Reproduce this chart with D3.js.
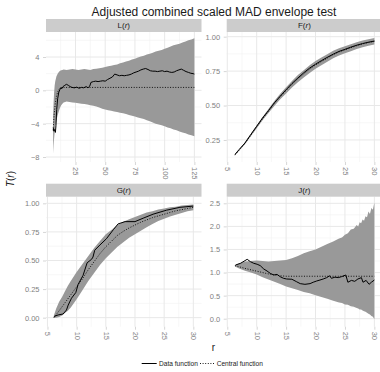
<!DOCTYPE html>
<html><head><meta charset="utf-8">
<script src="https://cdn.jsdelivr.net/npm/d3@7"></script>
<style>
body{margin:0;background:#fff}
svg{display:block}
text{font-family:"Liberation Sans",Arial,Helvetica,sans-serif}
</style>
</head><body>
<svg id="c" width="380" height="372"></svg>
<script>
// ---------- L(r) ----------
const rL = [6.2,6.6,7,7.5,8,9,10,11,12,13,14,15,17.5,20,22.5,25,27.5,30,32.5,35,37.5,40,42.5,45,47.5,50,52.5,55,57.5,60,62.5,65,67.5,70,72.5,75,77.5,80,82.5,85,87.5,90,92.5,95,97.5,100,102.5,105,107.5,110,112.5,115,117.5,120,122.5,125];
const upperL = [-3.0,-1.4,-0.3,0.6,1.1,1.7,2.0,2.2,2.35,2.4,2.45,2.5,2.45,2.5,2.55,2.5,2.45,2.5,2.55,2.5,2.45,2.55,2.6,2.65,2.7,2.8,2.9,2.95,3.05,3.1,3.25,3.35,3.45,3.55,3.7,3.8,3.95,4.05,4.15,4.3,4.4,4.5,4.65,4.75,4.85,5.0,5.1,5.25,5.4,5.5,5.6,5.75,5.85,6.0,6.1,6.25];
const lowerL = [-7.6,-6.6,-5.8,-5.0,-4.4,-3.6,-3.0,-2.5,-2.1,-1.8,-1.6,-1.45,-1.35,-1.4,-1.45,-1.5,-1.55,-1.6,-1.65,-1.7,-1.8,-1.85,-1.95,-2.05,-2.2,-2.3,-2.4,-2.45,-2.55,-2.6,-2.7,-2.75,-2.85,-2.95,-3.05,-3.15,-3.25,-3.35,-3.45,-3.6,-3.7,-3.85,-4.0,-4.1,-4.2,-4.3,-4.45,-4.55,-4.7,-4.8,-4.95,-5.05,-5.15,-5.3,-5.4,-5.5];
const rCL = [6.2,7,8,9,10,11,12,13,15,125];
const vCL = [-4.8,-3.0,-1.6,-0.7,-0.2,0.1,0.25,0.32,0.35,0.35];
const rDL = [6.3,6.8,7.5,8.1,8.6,9.2,10,11,11.8,12.5,13.5,14.5,16,17.4,19,20.5,22,24,26,28,30,32,34,35.5,37,38,40,42,44,46,48,50,52,54,56,58,60,62,64,66,68,70,72,74,76,78,80,82,84,86,88,90,92,94,96,98,100,102,104,106,108,110,112,114,116,118,120,122,124,125];
const vDL = [-4.5,-4.9,-4.7,-5.05,-4.2,-2.3,-1.0,-0.2,0.05,0.3,0.2,0.45,0.6,0.72,0.6,0.45,0.35,0.3,0.38,0.25,0.35,0.3,0.45,0.3,0.5,0.95,1.05,1.1,1.05,1.1,1.15,1.1,1.3,1.45,1.6,1.95,1.85,1.75,1.8,1.75,1.8,1.85,1.95,2.1,2.2,2.3,2.45,2.55,2.62,2.5,2.35,2.3,2.3,2.25,2.3,2.35,2.25,2.3,2.2,2.15,2.2,2.35,2.45,2.55,2.4,2.25,2.15,2.05,2.0,1.95];

// ---------- F(r) ----------
const rF = [6.3,7,8,9,10,11,12,13,14,15,16,17,18,19,20,21,22,23,24,25,26,27,28,29,30];
const upperF = [0.143,0.179,0.231,0.293,0.355,0.417,0.475,0.533,0.585,0.632,0.679,0.721,0.757,0.793,0.823,0.848,0.872,0.897,0.916,0.931,0.945,0.959,0.972,0.981,0.99];
const lowerF = [0.137,0.171,0.219,0.277,0.335,0.393,0.445,0.497,0.545,0.588,0.631,0.669,0.703,0.737,0.767,0.792,0.818,0.843,0.864,0.879,0.895,0.911,0.924,0.935,0.944];
const centralF = [0.14,0.175,0.225,0.285,0.345,0.405,0.46,0.515,0.565,0.61,0.655,0.695,0.73,0.765,0.795,0.82,0.845,0.87,0.89,0.905,0.92,0.935,0.948,0.958,0.967];
const dataF = [0.145,0.18,0.228,0.29,0.35,0.41,0.463,0.52,0.568,0.615,0.66,0.70,0.738,0.772,0.80,0.826,0.85,0.873,0.893,0.908,0.924,0.938,0.95,0.96,0.968];

// ---------- G(r) ----------
const rGB = [6.1,6.5,7,7.5,8,8.5,9,10,11,12,13,14,15,16,17,18,19,20,21,22,23,24,25,26,27,28,29,30];
const upperG = [0.02,0.08,0.14,0.18,0.23,0.28,0.32,0.40,0.47,0.54,0.61,0.67,0.73,0.77,0.81,0.84,0.86,0.88,0.90,0.92,0.93,0.945,0.955,0.965,0.97,0.98,0.985,0.99];
const lowerG = [0.0,0.0,0.005,0.02,0.04,0.06,0.09,0.16,0.24,0.32,0.39,0.46,0.52,0.57,0.62,0.66,0.70,0.73,0.76,0.79,0.82,0.845,0.865,0.885,0.90,0.915,0.93,0.94];
const rCG = [6.1,7,8,9,10,11,12,13,14,15,16,17,18,19,20,21,22,23,24,25,26,27,28,29,30];
const vCG = [0.0,0.06,0.13,0.20,0.27,0.34,0.42,0.49,0.56,0.62,0.67,0.72,0.755,0.785,0.81,0.835,0.855,0.875,0.89,0.905,0.92,0.935,0.945,0.955,0.965];
const rDG = [6.1,6.83,7.68,8.26,8.55,9.12,9.86,10.25,11.1,11.8,12.55,12.8,13.1,13.98,15.1,16.3,17.1,18.3,20,21.4,23.1,25.4,27.7,30];
const vDG = [0.01,0.024,0.032,0.067,0.11,0.17,0.22,0.29,0.37,0.48,0.51,0.53,0.59,0.635,0.69,0.77,0.82,0.84,0.84,0.87,0.905,0.94,0.965,0.976];

// ---------- J(r) ----------
const rJB = [6.3,7,8,9,10,11,12,13,14,15,16,17,18,19,20,21,22,23,24,24.5,25,25.5,26,26.5,27,27.25,27.5,27.75,28,28.25,28.5,28.75,29,29.25,29.5,29.75,30];
const upperJ = [1.16,1.2,1.24,1.25,1.26,1.25,1.24,1.25,1.26,1.27,1.31,1.36,1.42,1.46,1.5,1.56,1.62,1.67,1.74,1.76,1.82,1.85,1.93,1.95,2.03,2.0,2.09,2.07,2.15,2.12,2.22,2.2,2.32,2.27,2.4,2.36,2.52];
const lowerJ = [1.13,1.09,1.04,1.0,0.96,0.9,0.85,0.8,0.75,0.7,0.66,0.62,0.58,0.55,0.51,0.47,0.43,0.39,0.35,0.34,0.31,0.3,0.27,0.26,0.23,0.22,0.2,0.2,0.18,0.16,0.15,0.13,0.11,0.09,0.06,0.04,-0.01];
const rCJ = [6.3,8,10,12,14,15,30];
const vCJ = [1.15,1.09,1.03,0.97,0.93,0.92,0.92];
const rDJ = [6.4,7.25,8.38,8.94,9.5,10.07,10.6,11.2,11.76,12.3,12.9,13.45,14.0,14.56,15.1,15.98,16.8,17.4,18.2,19.07,19.6,20.2,20.76,21.3,21.9,22.4,22.7,23.3,23.85,24.4,25.15,25.5,26.1,26.67,27.2,27.8,28.07,28.6,29.1,29.5,30];
const vDJ = [1.163,1.20,1.287,1.235,1.20,1.18,1.15,1.077,1.033,0.983,0.947,0.96,0.91,0.875,0.86,0.855,0.80,0.76,0.745,0.76,0.79,0.817,0.838,0.86,0.89,0.93,0.875,0.90,0.89,0.91,0.947,0.79,0.83,0.81,0.86,0.89,0.79,0.83,0.745,0.79,0.838];

// ---------- labels / ticks ----------
const titleText = "Adjusted combined scaled MAD envelope test";
const legendLabels = ["Data function","Central function"];
const xTicksL = [25,50,75,100,125];
const xTicksS = [5,10,15,20,25,30];
const yTicksL = [-8,-4,0,4];
const yTicksF = [0.25,0.5,0.75,1.0];
const yTicksG = [0,0.25,0.5,0.75,1.0];
const yTicksJ = [0,0.5,1.0,1.5,2.0,2.5];

const minorOf = (ticks, dom) => {
  const step = ticks[1]-ticks[0];
  const out = [];
  for (let v = ticks[0]-step/2; v <= dom[1]; v += step) if (v >= dom[0]) out.push(v);
  return out;
};

const panels = [
  {name:"L", x0:46, x1:201.5, y0:32, y1:162, xd:[0.2,131], yd:[-8.6,7.0], xt:xTicksL, yt:yTicksL,
   yf: v => v<0 ? "\u2212"+Math.abs(v) : String(v),
   band:d3.zip(rL,lowerL,upperL), cen:d3.zip(rCL,vCL), dat:d3.zip(rDL,vDL)},
  {name:"F", x0:226.7, x1:382, y0:32, y1:162, xd:[4.9,31.3], yd:[0.09,1.034], xt:xTicksS, yt:yTicksF,
   yf: d3.format(".2f"),
   band:d3.zip(rF,lowerF,upperF), cen:d3.zip(rF,centralF), dat:d3.zip(rF,dataF)},
  {name:"G", x0:46, x1:201.5, y0:196.7, y1:326.7, xd:[4.75,31.4], yd:[-0.079,1.058], xt:xTicksS, yt:yTicksG,
   yf: d3.format(".2f"),
   band:d3.zip(rGB,lowerG,upperG), cen:d3.zip(rCG,vCG), dat:d3.zip(rDG,vDG)},
  {name:"J", x0:226.7, x1:382, y0:196.7, y1:326.7, xd:[4.9,31.3], yd:[-0.173,2.643], xt:xTicksS, yt:yTicksJ,
   yf: d3.format(".1f"),
   band:d3.zip(rJB,lowerJ,upperJ), cen:d3.zip(rCJ,vCJ), dat:d3.zip(rDJ,vDJ)}
];

const svg = d3.select("#c");
svg.append("rect").attr("width",380).attr("height",372).attr("fill","#fff");

const gridMajor = "#e8e8e8", gridMinor = "#f1f1f1", tickCol = "#7f7f7f";

panels.forEach((p,i) => {
  const x = d3.scaleLinear().domain(p.xd).range([p.x0,p.x1]);
  const y = d3.scaleLinear().domain(p.yd).range([p.y1,p.y0]);
  const g = svg.append("g");
  const clipId = "clip"+i;
  svg.append("clipPath").attr("id",clipId).append("rect")
    .attr("x",p.x0).attr("y",p.y0).attr("width",p.x1-p.x0).attr("height",p.y1-p.y0);

  minorOf(p.xt,p.xd).forEach(v => g.append("line").attr("x1",x(v)).attr("x2",x(v)).attr("y1",p.y0).attr("y2",p.y1)
     .attr("stroke",gridMinor).attr("stroke-width",0.6));
  minorOf(p.yt,p.yd).forEach(v => g.append("line").attr("y1",y(v)).attr("y2",y(v)).attr("x1",p.x0).attr("x2",p.x1)
     .attr("stroke",gridMinor).attr("stroke-width",0.6));
  p.xt.forEach(v => g.append("line").attr("x1",x(v)).attr("x2",x(v)).attr("y1",p.y0).attr("y2",p.y1)
     .attr("stroke",gridMajor).attr("stroke-width",1));
  p.yt.forEach(v => g.append("line").attr("y1",y(v)).attr("y2",y(v)).attr("x1",p.x0).attr("x2",p.x1)
     .attr("stroke",gridMajor).attr("stroke-width",1));

  const content = g.append("g").attr("clip-path",`url(#${clipId})`);
  content.append("path").datum(p.band)
    .attr("d", d3.area().x(d=>x(d[0])).y0(d=>y(d[1])).y1(d=>y(d[2])))
    .attr("fill","#999999");
  content.append("path").datum(p.cen)
    .attr("d", d3.line().x(d=>x(d[0])).y(d=>y(d[1])))
    .attr("fill","none").attr("stroke","#000").attr("stroke-width",0.9).attr("stroke-dasharray","1,1.6");
  content.append("path").datum(p.dat)
    .attr("d", d3.line().x(d=>x(d[0])).y(d=>y(d[1])))
    .attr("fill","none").attr("stroke","#000").attr("stroke-width",1);

  svg.append("rect").attr("x",p.x0).attr("y",p.y0-13).attr("width",p.x1-p.x0).attr("height",13).attr("fill","#cccccc");
  const st = svg.append("text").attr("x",(p.x0+p.x1)/2).attr("y",p.y0-3.6)
    .attr("text-anchor","middle").attr("font-size",8).attr("fill","#1a1a1a");
  st.append("tspan").text(p.name+"(");
  st.append("tspan").attr("font-style","italic").text("r");
  st.append("tspan").text(")");

  const ya = svg.append("g").attr("transform",`translate(${p.x0},0)`)
    .call(d3.axisLeft(y).tickValues(p.yt).tickFormat(p.yf).tickSize(3).tickPadding(3.5));
  ya.select(".domain").remove();
  ya.selectAll("line").attr("stroke","#d6d6d6");
  ya.selectAll("text").attr("font-size",7.5).attr("fill",tickCol).attr("font-family","Liberation Sans, Arial, sans-serif");

  const xa = svg.append("g").attr("transform",`translate(0,${p.y1})`)
    .call(d3.axisBottom(x).tickValues(p.xt).tickSize(3));
  xa.select(".domain").remove();
  xa.selectAll("line").attr("stroke","#d6d6d6");
  xa.selectAll("text").attr("font-size",7.5).attr("fill",tickCol).attr("font-family","Liberation Sans, Arial, sans-serif")
    .attr("y",0).attr("x",5).attr("dy","0.33em").attr("transform","rotate(90)").style("text-anchor","start");
});

svg.append("text").attr("x",214).attr("y",16.3).attr("text-anchor","middle").attr("font-size",12).attr("fill","#1a1a1a").text(titleText);

const yt = svg.append("text").attr("transform","translate(13.5,179) rotate(-90)").attr("text-anchor","middle")
  .attr("font-size",10).attr("fill","#1a1a1a");
yt.append("tspan").attr("font-style","italic").text("T");
yt.append("tspan").text("(");
yt.append("tspan").attr("font-style","italic").text("r");
yt.append("tspan").text(")");
svg.append("text").attr("x",213.5).attr("y",351).attr("text-anchor","middle").attr("font-size",10).attr("fill","#1a1a1a").text("r");

const lg = svg.append("g");
lg.append("line").attr("x1",141.7).attr("x2",156.7).attr("y1",363.5).attr("y2",363.5).attr("stroke","#000").attr("stroke-width",1);
lg.append("text").attr("x",159).attr("y",366).attr("font-size",6.6).attr("fill","#1a1a1a").text(legendLabels[0]);
lg.append("line").attr("x1",200).attr("x2",215).attr("y1",363.5).attr("y2",363.5).attr("stroke","#000").attr("stroke-width",0.9).attr("stroke-dasharray","1,1.6");
lg.append("text").attr("x",216.7).attr("y",366).attr("font-size",6.6).attr("fill","#1a1a1a").text(legendLabels[1]);
</script>
</body></html>
